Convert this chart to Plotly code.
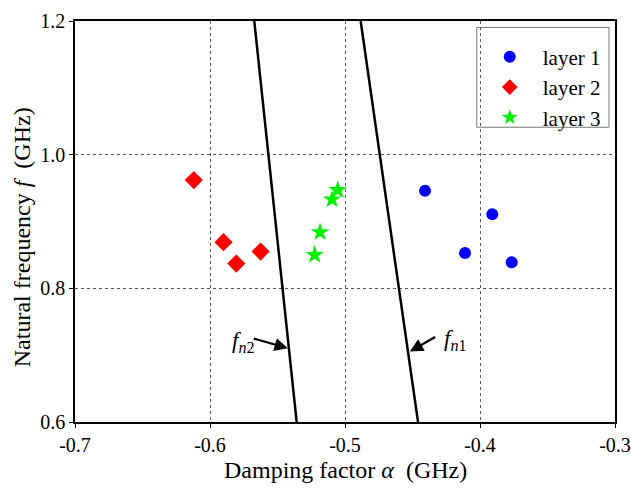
import plotly.graph_objects as go

# ---- data ----
layer1_alpha = [-0.4407, -0.3909, -0.4111, -0.3765]
layer1_freq = [0.946, 0.911, 0.853, 0.839]
layer2_alpha = [-0.612, -0.590, -0.5805, -0.5625]
layer2_freq = [0.962, 0.869, 0.837, 0.855]
layer3_alpha = [-0.5054, -0.5096, -0.5185, -0.5225]
layer3_freq = [0.947, 0.933, 0.884, 0.850]

fn1_alpha = [-0.4884, -0.4459]
fn1_freq = [1.2, 0.6]
fn2_alpha = [-0.5672, -0.5358]
fn2_freq = [1.2, 0.6]

x_tickvals = [-0.7, -0.6, -0.5, -0.4, -0.3]
x_ticktext = ["-0.7", "-0.6", "-0.5", "-0.4", "-0.3"]
y_tickvals = [0.6, 0.8, 1.0, 1.2]
y_ticktext = ["0.6", "0.8", "1.0", "1.2"]

FONT = "Liberation Serif, Times New Roman, serif"

fig = go.Figure()
fig.add_trace(go.Scatter(x=fn2_alpha, y=fn2_freq, mode="lines",
                         line=dict(color="black", width=2.5), showlegend=False))
fig.add_trace(go.Scatter(x=fn1_alpha, y=fn1_freq, mode="lines",
                         line=dict(color="black", width=2.5), showlegend=False))
fig.add_trace(go.Scatter(x=layer1_alpha, y=layer1_freq, mode="markers", name="layer 1",
                         marker=dict(symbol="circle", color="#0000ff", size=12)))
fig.add_trace(go.Scatter(x=layer2_alpha, y=layer2_freq, mode="markers", name="layer 2",
                         marker=dict(symbol="diamond", color="#ff0000", size=14)))
fig.add_trace(go.Scatter(x=layer3_alpha, y=layer3_freq, mode="markers", name="layer 3",
                         marker=dict(symbol="star", color="#00f000", size=14)))

# arrows
fig.add_annotation(x=-0.5424, y=0.7104, ax=-0.5687, ay=0.7254, axref="x", ayref="y",
                   xref="x", yref="y", text="", showarrow=True, arrowhead=2,
                   arrowsize=1.2, arrowwidth=2.2, arrowcolor="black")
fig.add_annotation(x=-0.4519, y=0.7055, ax=-0.4321, ay=0.7284, axref="x", ayref="y",
                   xref="x", yref="y", text="", showarrow=True, arrowhead=2,
                   arrowsize=1.2, arrowwidth=2.2, arrowcolor="black")
fig.add_annotation(x=-0.5755, y=0.719, xref="x", yref="y", showarrow=False,
                   text="<i>f</i><sub><i>n</i>2</sub>", font=dict(family=FONT, size=23, color="black"))
fig.add_annotation(x=-0.4185, y=0.722, xref="x", yref="y", showarrow=False,
                   text="<i>f</i><sub><i>n</i>1</sub>", font=dict(family=FONT, size=23, color="black"))

# axis titles
fig.add_annotation(x=0.5, y=-0.1196, xref="paper", yref="paper", showarrow=False,
                   xanchor="center", yanchor="middle",
                   text="Damping factor <i>α</i>  (GHz)",
                   font=dict(family=FONT, size=24, color="black"))
fig.add_annotation(x=-0.098, y=0.461, xref="paper", yref="paper", showarrow=False,
                   xanchor="center", yanchor="middle", textangle=-90,
                   text="Natural frequency <i>f</i>  (GHz)",
                   font=dict(family=FONT, size=24, color="black"))

# legend frame
fig.add_shape(type="rect", xref="paper", yref="paper", x0=0.744, x1=0.989, y0=0.735, y1=0.984,
              line=dict(color="#777777", width=1), fillcolor="white", layer="below")

axis_common = dict(showline=True, linecolor="black", linewidth=1.5, mirror=True,
                   showgrid=True, gridcolor="#555555", griddash="dot", gridwidth=1,
                   ticks="outside", ticklen=4, tickcolor="black", zeroline=False,
                   automargin=False, layer="below traces",
                   tickfont=dict(family=FONT, size=20, color="black"))

fig.update_xaxes(range=[-0.7, -0.3], tickvals=x_tickvals, ticktext=x_ticktext, **axis_common)
fig.update_yaxes(range=[0.6, 1.2], tickvals=y_tickvals, ticktext=y_ticktext, **axis_common)

fig.update_layout(
    width=631, height=488,
    margin=dict(l=75, r=16, t=21, b=66),
    plot_bgcolor="white", paper_bgcolor="white",
    font=dict(family=FONT),
    legend=dict(x=0.744, y=0.961, xanchor="left", yanchor="top",
                bgcolor="rgba(0,0,0,0)", borderwidth=0,
                font=dict(family=FONT, size=21, color="black"),
                itemwidth=56, itemsizing="constant", tracegroupgap=0),
)

fig.write_html("out.html")
